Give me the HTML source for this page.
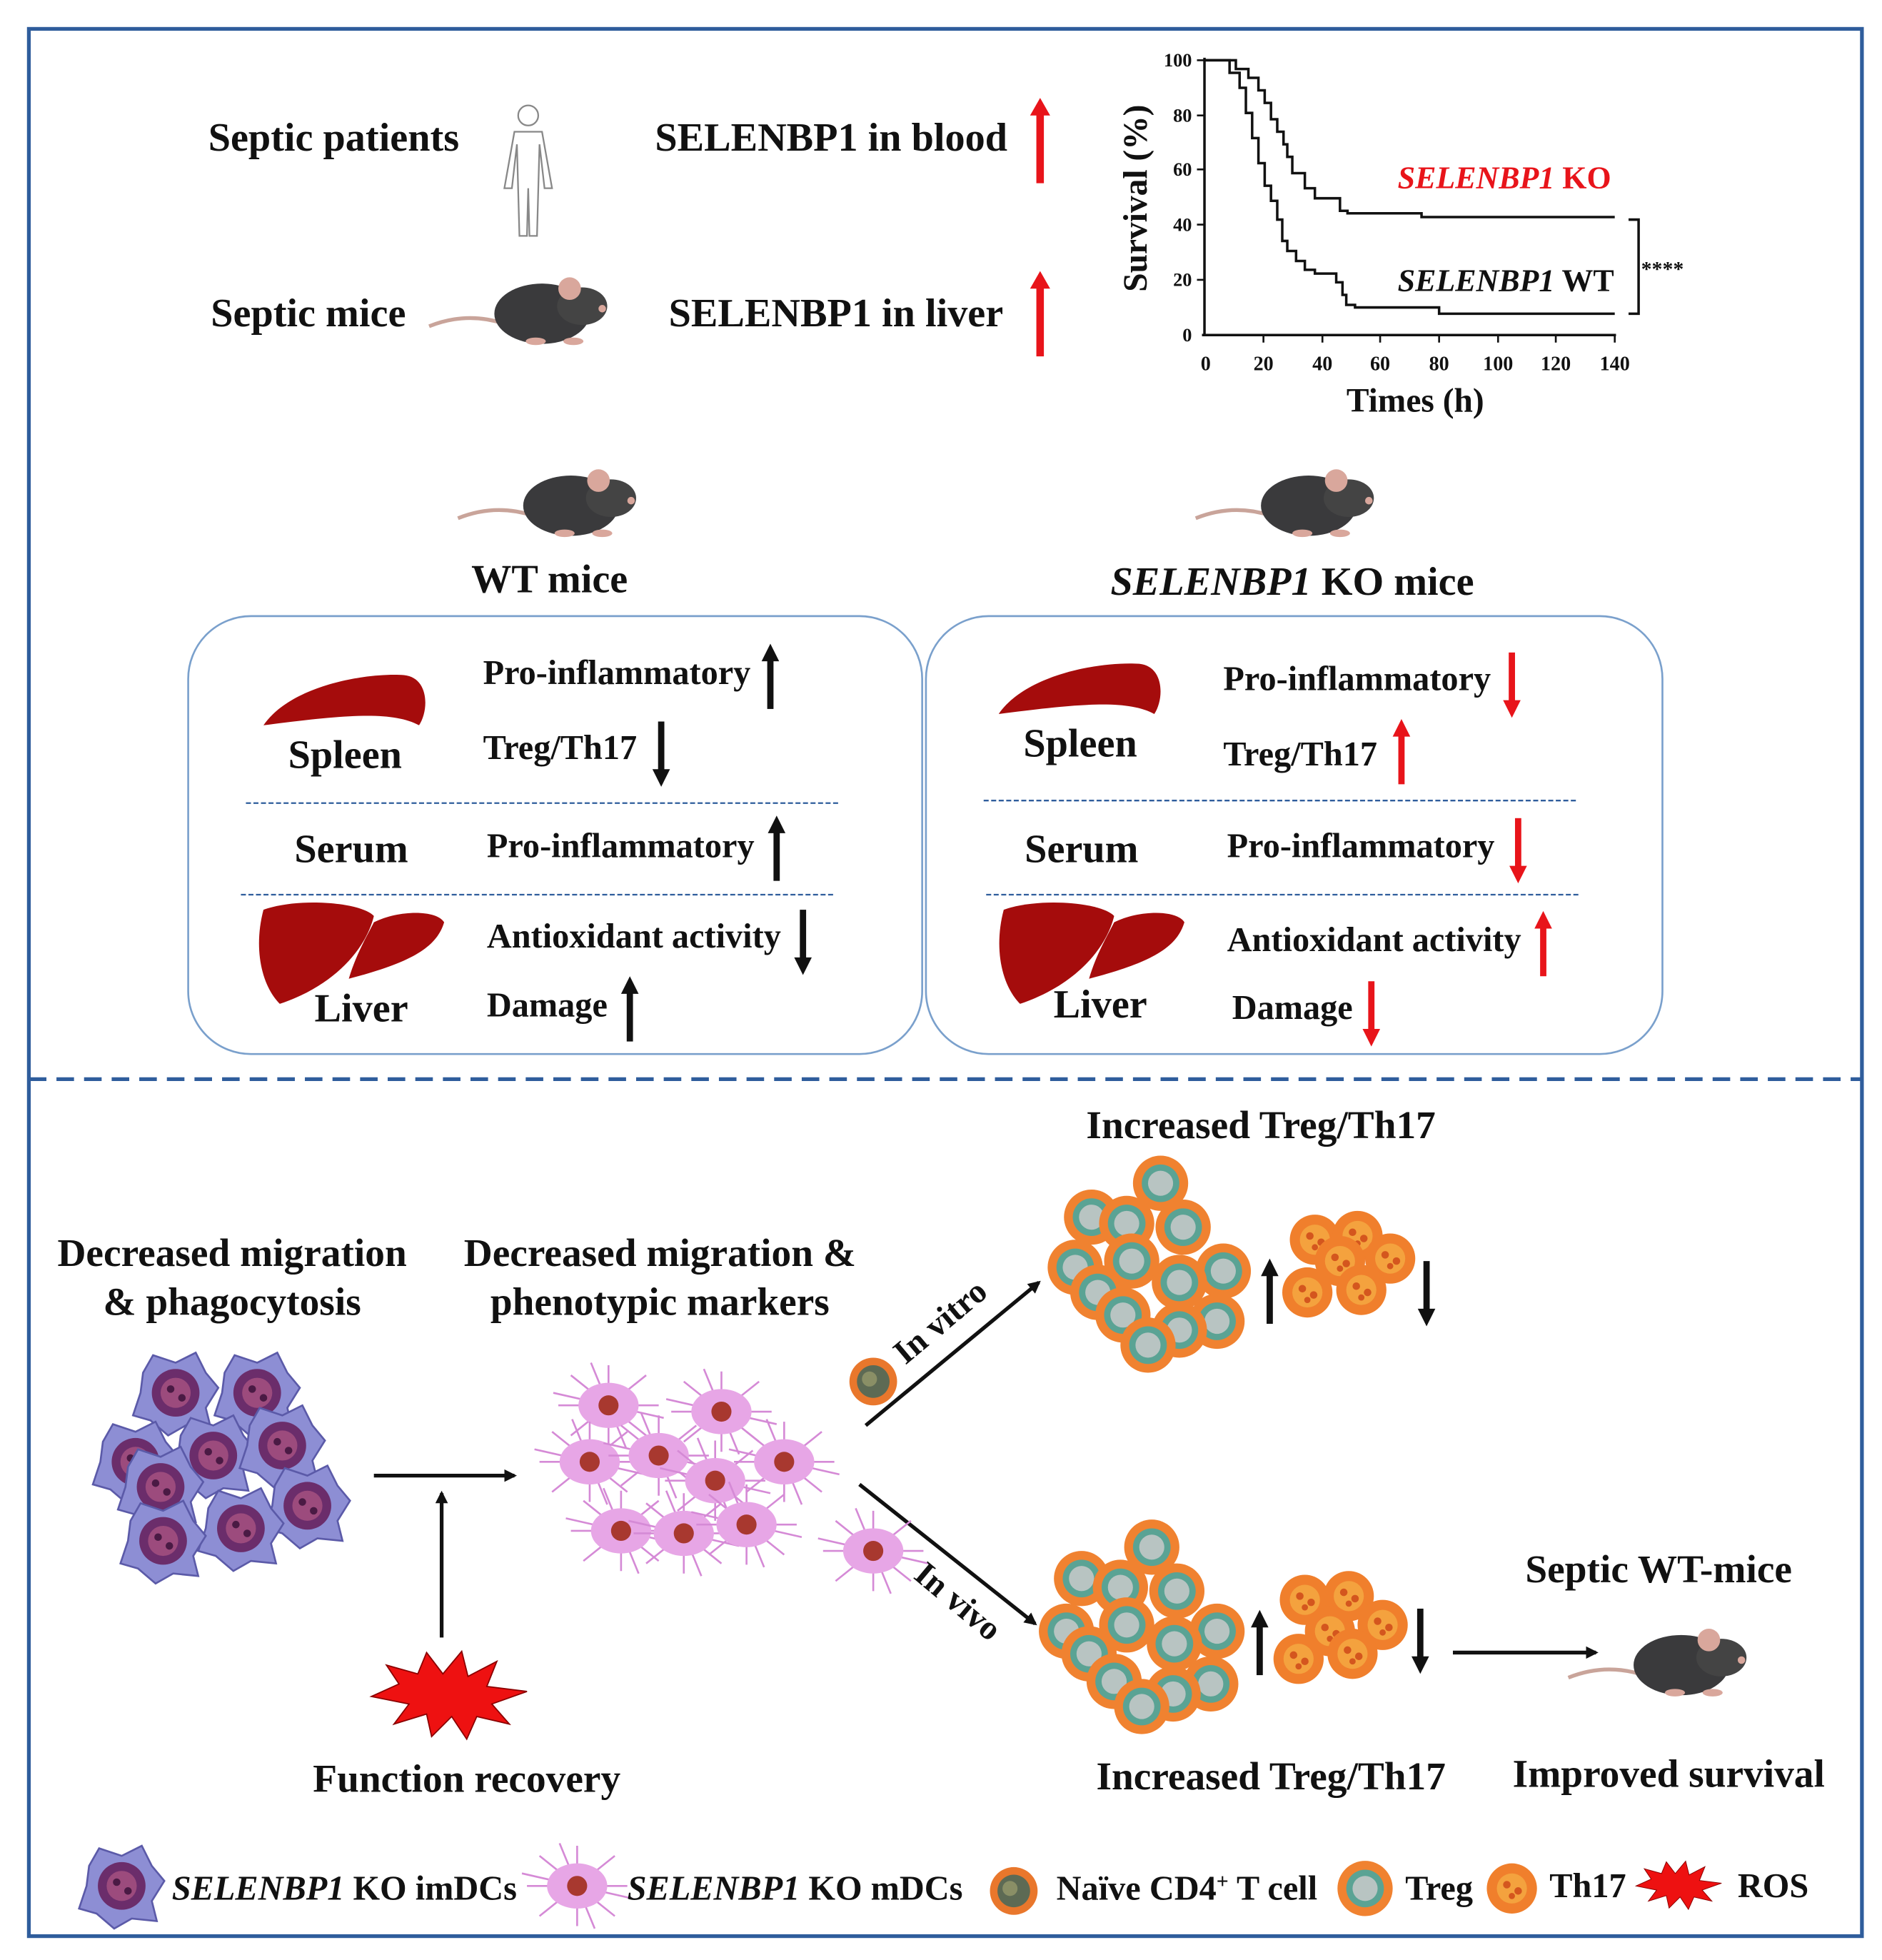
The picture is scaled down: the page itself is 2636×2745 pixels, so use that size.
<!DOCTYPE html>
<html><head><meta charset="utf-8"><style>
html,body{margin:0;padding:0;background:#fff}
svg{display:block}
text{font-family:"Liberation Serif",serif;font-weight:bold;fill:#111}
</style></head><body>
<svg width="2636" height="2745" viewBox="0 0 1500 1562" xmlns="http://www.w3.org/2000/svg">
<defs>
<marker id="ab" markerWidth="10" markerHeight="10" refX="8" refY="5" orient="auto" markerUnits="userSpaceOnUse"><path d="M0,0 L10,5 L0,10 z" fill="#111"/></marker>
<g id="upR"><rect x="-3" y="8" width="6" height="58" fill="#e8141a"/><path d="M-8,12 L0,-2 L8,12 z" fill="#e8141a"/></g>
<g id="upK"><rect x="-2.5" y="8" width="5" height="42" fill="#111"/><path d="M-7,12 L0,-2 L7,12 z" fill="#111"/></g>
<g id="dnK"><rect x="-2.5" y="0" width="5" height="42" fill="#111"/><path d="M-7,38 L0,52 L7,38 z" fill="#111"/></g>
<g id="upRs"><rect x="-2.5" y="8" width="5" height="42" fill="#e8141a"/><path d="M-7,12 L0,-2 L7,12 z" fill="#e8141a"/></g>
<g id="dnRs"><rect x="-2.5" y="0" width="5" height="42" fill="#e8141a"/><path d="M-7,38 L0,52 L7,38 z" fill="#e8141a"/></g>
<g id="mouse"><path d="M-90,10 Q-60,-2 -30,8" stroke="#c9a49a" stroke-width="3" fill="none"/><ellipse cx="0" cy="0" rx="38" ry="24" fill="#3a3a3c"/><ellipse cx="32" cy="-6" rx="20" ry="15" fill="#444"/><circle cx="22" cy="-20" r="9" fill="#d9a79c"/><circle cx="48" cy="-4" r="3" fill="#d9a79c"/><ellipse cx="-5" cy="22" rx="8" ry="3" fill="#d9a79c"/><ellipse cx="25" cy="22" rx="8" ry="3" fill="#d9a79c"/></g>
<g id="spleen"><path d="M-62,22 C-40,-10 20,-20 50,-18 C70,-16 70,10 62,22 C40,10 0,14 -62,22 z" fill="#a50c0c"/></g>
<g id="liver"><path d="M-68,-30 C-40,-40 10,-36 20,-25 C14,0 -10,30 -55,45 C-70,30 -76,0 -68,-30 z" fill="#a50c0c"/><path d="M20,-20 C40,-30 70,-30 76,-20 C70,0 50,12 0,25 C6,5 14,-8 20,-20 z" fill="#a50c0c"/></g>
<g id="imdc"><path d="M-26,-16 L-18,-30 L0,-24 L16,-32 L24,-16 L34,-4 L24,12 L28,28 L8,26 L-6,34 L-20,22 L-34,18 L-28,0 z" fill="#8d8ed4" stroke="#5b5aa8" stroke-width="1.5"/><circle r="19" fill="#6b2d6b"/><circle r="12" fill="#9c4b7d"/><circle cx="-4" cy="-3" r="3" fill="#4a1a44"/><circle cx="5" cy="4" r="3" fill="#4a1a44"/></g>
<g id="mdc"><g stroke="#d58ad6" stroke-width="1.5"><line x1="-40" y1="0" x2="40" y2="0"/><line x1="0" y1="-32" x2="0" y2="32"/><line x1="-30" y1="-24" x2="30" y2="24"/><line x1="-30" y1="24" x2="30" y2="-24"/><line x1="-44" y1="-10" x2="44" y2="10"/><line x1="-14" y1="-34" x2="14" y2="34"/></g><ellipse rx="24" ry="18" fill="#e7a6e6"/><circle r="8" fill="#a8382f"/></g>
<g id="treg"><circle r="22" fill="#f08230"/><circle r="15" fill="#5aa394"/><circle r="10" fill="#b8c4c2"/></g>
<g id="th17"><circle r="20" fill="#f07f2c"/><circle r="12" fill="#f4a23e"/><circle cx="-4" cy="-3" r="3" fill="#d4561e"/><circle cx="5" cy="2" r="3" fill="#d4561e"/><circle cx="0" cy="6" r="2.5" fill="#d4561e"/></g>
<g id="naive"><circle r="19" fill="#e9772c"/><circle r="13" fill="#5d6a54"/><circle cx="-3" cy="-2" r="6" fill="#8a8f66"/></g>
<g id="ros"><path d="M-62,0 L-40,-10 L-50,-25 L-25,-18 L-18,-35 L-5,-18 L10,-36 L15,-16 L38,-28 L30,-8 L62,-4 L34,6 L48,22 L22,16 L14,34 L2,16 L-14,32 L-18,14 L-44,22 L-32,6 z" fill="#ee1111" stroke="#8a0000" stroke-width="1"/></g>
</defs>

<rect x="23" y="23" width="1461" height="1520" fill="none" stroke="#2f5d9c" stroke-width="3"/>
<line x1="23" y1="860" x2="1484" y2="860" stroke="#2f5d9c" stroke-width="3" stroke-dasharray="14,8"/>

<!-- top -->
<text x="166" y="120" font-size="32">Septic patients</text>
<g fill="none" stroke="#888" stroke-width="1.3"><circle cx="421" cy="92" r="8"/><path d="M410,105 L432,105 L440,150 L434,150 L430,115 L428,188 L422,188 L421,150 L420,188 L414,188 L412,115 L408,150 L402,150 z"/></g>
<text x="522" y="120" font-size="32">SELENBP1 in  blood</text>
<use href="#upR" x="829" y="80"/>
<text x="168" y="260" font-size="32">Septic mice</text>
<use href="#mouse" x="432" y="250"/>
<text x="533" y="260" font-size="32">SELENBP1 in  liver</text>
<use href="#upR" x="829" y="218"/>

<!-- survival chart -->
<g stroke="#111" stroke-width="2" fill="none">
<line x1="960" y1="46" x2="960" y2="268"/><line x1="958" y1="267" x2="1288" y2="267"/>
<g stroke-width="1.5">
<line x1="954" y1="48" x2="960" y2="48"/><line x1="954" y1="92" x2="960" y2="92"/><line x1="954" y1="135" x2="960" y2="135"/><line x1="954" y1="179" x2="960" y2="179"/><line x1="954" y1="223" x2="960" y2="223"/>
<line x1="1007" y1="267" x2="1007" y2="273"/><line x1="1054" y1="267" x2="1054" y2="273"/><line x1="1100" y1="267" x2="1100" y2="273"/><line x1="1147" y1="267" x2="1147" y2="273"/><line x1="1194" y1="267" x2="1194" y2="273"/><line x1="1240" y1="267" x2="1240" y2="273"/><line x1="1287" y1="267" x2="1287" y2="273"/>
</g>
<path d="M960,48 H985 V55 H995 V62 H1003 V72 H1008 V82 H1013 V95 H1018 V105 H1023 V115 H1026 V125 H1030 V138 H1040 V150 H1048 V158 H1068 V168 H1074 V170 H1133 V173 H1287"/>
<path d="M960,48 H980 V58 H988 V70 H993 V90 H998 V110 H1003 V130 H1008 V148 H1013 V160 H1018 V175 H1022 V192 H1026 V200 H1033 V208 H1040 V215 H1048 V218 H1065 V225 H1070 V235 H1073 V243 H1080 V245 H1147 V250 H1287"/>
<path d="M1298,175 H1306 V250 H1298"/>
</g>
<g font-size="15" text-anchor="end"><text x="950" y="53">100</text><text x="950" y="97">80</text><text x="950" y="140">60</text><text x="950" y="184">40</text><text x="950" y="228">20</text><text x="950" y="272">0</text></g>
<g font-size="16" text-anchor="middle"><text x="961" y="295">0</text><text x="1007" y="295">20</text><text x="1054" y="295">40</text><text x="1100" y="295">60</text><text x="1147" y="295">80</text><text x="1194" y="295">100</text><text x="1240" y="295">120</text><text x="1287" y="295">140</text></g>
<text x="1128" y="328" font-size="27" text-anchor="middle">Times (h)</text>
<text transform="translate(914,158) rotate(-90)" font-size="27" text-anchor="middle">Survival (%)</text>
<text x="1114" y="150" font-size="25" style="fill:#e8141a"><tspan font-style="italic">SELENBP1</tspan> KO</text>
<text x="1114" y="232" font-size="25"><tspan font-style="italic">SELENBP1</tspan> WT</text>
<text x="1308" y="220" font-size="17">****</text>

<!-- middle -->
<use href="#mouse" x="455" y="403"/>
<text x="438" y="472" font-size="32" text-anchor="middle">WT mice</text>
<use href="#mouse" x="1043" y="403"/>
<text x="1030" y="474" font-size="32" text-anchor="middle"><tspan font-style="italic">SELENBP1</tspan> KO mice</text>

<rect x="150" y="491" width="585" height="349" rx="50" fill="none" stroke="#7aa0cc" stroke-width="1.5"/>
<rect x="738" y="491" width="587" height="349" rx="50" fill="none" stroke="#7aa0cc" stroke-width="1.5"/>
<line x1="196" y1="640" x2="668" y2="640" stroke="#2f5d9c" stroke-width="1.3" stroke-dasharray="4,2"/>
<line x1="192" y1="713" x2="665" y2="713" stroke="#2f5d9c" stroke-width="1.3" stroke-dasharray="4,2"/>
<line x1="784" y1="638" x2="1256" y2="638" stroke="#2f5d9c" stroke-width="1.3" stroke-dasharray="4,2"/>
<line x1="786" y1="713" x2="1258" y2="713" stroke="#2f5d9c" stroke-width="1.3" stroke-dasharray="4,2"/>

<g font-size="27.5">
<use href="#spleen" x="272" y="556"/>
<text x="275" y="612" font-size="32" text-anchor="middle">Spleen</text>
<text x="385" y="545">Pro-inflammatory</text><use href="#upK" x="614" y="515"/>
<text x="385" y="605">Treg/Th17</text><use href="#dnK" x="527" y="575"/>
<text x="280" y="687" font-size="32" text-anchor="middle">Serum</text>
<text x="388" y="683">Pro-inflammatory</text><use href="#upK" x="619" y="652"/>
<use href="#liver" x="278" y="755"/>
<text x="288" y="814" font-size="32" text-anchor="middle">Liver</text>
<text x="388" y="755">Antioxidant activity</text><use href="#dnK" x="640" y="725"/>
<text x="388" y="810">Damage</text><use href="#upK" x="502" y="780"/>

<use href="#spleen" x="858" y="547"/>
<text x="861" y="603" font-size="32" text-anchor="middle">Spleen</text>
<text x="975" y="550">Pro-inflammatory</text><use href="#dnRs" x="1205" y="520"/>
<text x="975" y="610">Treg/Th17</text><use href="#upRs" x="1117" y="575"/>
<text x="862" y="687" font-size="32" text-anchor="middle">Serum</text>
<text x="978" y="683">Pro-inflammatory</text><use href="#dnRs" x="1210" y="652"/>
<use href="#liver" x="868" y="755"/>
<text x="877" y="811" font-size="32" text-anchor="middle">Liver</text>
<text x="978" y="758">Antioxidant activity</text><use href="#upRs" x="1230" y="728"/>
<text x="982" y="812">Damage</text><use href="#dnRs" x="1093" y="782"/>
</g>

<!-- bottom -->
<g font-size="31.5" text-anchor="middle">
<text x="185" y="1009">Decreased migration</text><text x="185" y="1048">&amp; phagocytosis</text>
<text x="526" y="1009">Decreased migration &amp;</text><text x="526" y="1048">phenotypic markers</text>
<text x="1005" y="907">Increased Treg/Th17</text>
<text x="1013" y="1426">Increased Treg/Th17</text>
<text x="1322" y="1261">Septic WT-mice</text>
<text x="1330" y="1424">Improved survival</text>
<text x="372" y="1428">Function recovery</text>
</g>
<use href="#imdc" x="140" y="1110"/><use href="#imdc" x="205" y="1110"/><use href="#imdc" x="170" y="1160"/><use href="#imdc" x="225" y="1152"/><use href="#imdc" x="108" y="1165"/><use href="#imdc" x="128" y="1185"/><use href="#imdc" x="245" y="1200"/><use href="#imdc" x="192" y="1218"/><use href="#imdc" x="130" y="1228"/>
<use href="#mdc" x="485" y="1120"/><use href="#mdc" x="575" y="1125"/><use href="#mdc" x="470" y="1165"/><use href="#mdc" x="525" y="1160"/><use href="#mdc" x="625" y="1165"/><use href="#mdc" x="570" y="1180"/><use href="#mdc" x="495" y="1220"/><use href="#mdc" x="545" y="1222"/><use href="#mdc" x="595" y="1215"/>
<g stroke="#111" stroke-width="3" fill="none" marker-end="url(#ab)">
<line x1="298" y1="1176" x2="410" y2="1176"/>
<line x1="352" y1="1305" x2="352" y2="1190"/>
<line x1="690" y1="1136" x2="828" y2="1022"/>
<line x1="685" y1="1183" x2="825" y2="1294"/>
<line x1="1158" y1="1317" x2="1272" y2="1317"/>
</g>
<use href="#ros" x="358" y="1352"/>
<use href="#naive" x="696" y="1101"/>
<text transform="translate(755,1060) rotate(-40)" font-size="27" text-anchor="middle">In vitro</text>
<use href="#mdc" x="696" y="1236"/>
<text transform="translate(758,1283) rotate(40)" font-size="27" text-anchor="middle">In vivo</text>

<g>
<use href="#treg" x="925" y="943"/><use href="#treg" x="870" y="970"/><use href="#treg" x="898" y="975"/><use href="#treg" x="943" y="978"/><use href="#treg" x="857" y="1010"/><use href="#treg" x="902" y="1005"/><use href="#treg" x="975" y="1013"/><use href="#treg" x="940" y="1022"/><use href="#treg" x="875" y="1030"/><use href="#treg" x="895" y="1048"/><use href="#treg" x="970" y="1053"/><use href="#treg" x="940" y="1060"/><use href="#treg" x="915" y="1072"/>
<use href="#th17" x="1048" y="988"/><use href="#th17" x="1082" y="985"/><use href="#th17" x="1108" y="1003"/><use href="#th17" x="1068" y="1005"/><use href="#th17" x="1042" y="1030"/><use href="#th17" x="1085" y="1028"/>
<use href="#upK" x="1012" y="1005"/><use href="#dnK" x="1137" y="1005"/>

<use href="#treg" x="918" y="1233"/><use href="#treg" x="862" y="1258"/><use href="#treg" x="893" y="1265"/><use href="#treg" x="938" y="1268"/><use href="#treg" x="850" y="1300"/><use href="#treg" x="898" y="1295"/><use href="#treg" x="970" y="1300"/><use href="#treg" x="936" y="1310"/><use href="#treg" x="868" y="1318"/><use href="#treg" x="888" y="1340"/><use href="#treg" x="965" y="1342"/><use href="#treg" x="935" y="1350"/><use href="#treg" x="910" y="1360"/>
<use href="#th17" x="1040" y="1275"/><use href="#th17" x="1075" y="1272"/><use href="#th17" x="1102" y="1295"/><use href="#th17" x="1060" y="1300"/><use href="#th17" x="1035" y="1322"/><use href="#th17" x="1078" y="1318"/>
<use href="#upK" x="1004" y="1285"/><use href="#dnK" x="1132" y="1282"/>
</g>
<use href="#mouse" x="1340" y="1327"/>

<!-- legend -->
<use href="#imdc" x="97" y="1503"/>
<text x="137" y="1514" font-size="27.5"><tspan font-style="italic">SELENBP1</tspan> KO imDCs</text>
<use href="#mdc" x="460" y="1503"/>
<text x="500" y="1514" font-size="27.5"><tspan font-style="italic">SELENBP1</tspan> KO mDCs</text>
<use href="#naive" x="808" y="1507"/>
<text x="842" y="1514" font-size="27.5">Naïve CD4<tspan baseline-shift="super" font-size="17">+</tspan> T cell</text>
<use href="#treg" x="1088" y="1505"/>
<text x="1120" y="1514" font-size="27.5">Treg</text>
<use href="#th17" x="1205" y="1505"/>
<text x="1235" y="1512" font-size="27.5">Th17</text>
<g transform="translate(1338,1503) scale(0.55)"><use href="#ros"/></g>
<text x="1385" y="1512" font-size="27.5">ROS</text>
</svg>
</body></html>
